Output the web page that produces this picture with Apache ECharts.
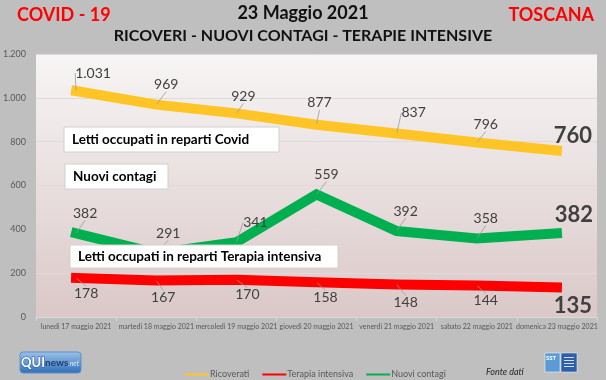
<!DOCTYPE html>
<html><head><meta charset="utf-8">
<script src="https://cdn.jsdelivr.net/npm/echarts@6/dist/echarts.min.js"></script>
<style>html,body{margin:0;padding:0;background:#bfbfbf;}#c{width:606px;height:380px;}</style>
</head><body><div id="c"></div>
<script>
var categories = ['lunedì 17 maggio 2021','martedì 18 maggio 2021','mercoledì 19 maggio 2021','giovedì 20 maggio 2021','venerdì 21 maggio 2021','sabato 22 maggio 2021','domenica 23 maggio 2021'];
var ricoverati = [1031, 969, 929, 877, 837, 796, 760];
var terapia = [178, 167, 170, 158, 148, 144, 135];
var contagi = [382, 291, 341, 559, 392, 358, 382];
var yTicks = [0, 200, 400, 600, 800, 1000, 1200];

// label offsets (style config, not data)
var offR = [[17,-18],[10,-20],[7,-17],[3,-22],[17,-21],[9,-18],[16,-15]];
var offT = [[10,15],[7,17],[11,15],[9,15],[9,18],[9,15],[16,18]];
var offC = [[9,-20],[12,-20],[19,-20],[10,-20],[9,-20],[9,-20],[17,-18]];

var FONT = 'Lato, "Open Sans", sans-serif';
function fmt(v){ return String(v).replace(/\B(?=(\d{3})+(?!\d))/g, '.'); }

function mkSeries(name, data, color, offs){
  var last = data.length - 1;
  return {
    name: name, type: 'line', data: data.map(function(v, i){
      return i === last ? {value: v, label: {fontSize: 22, fontWeight: 'bold', color: '#404040'}, labelLine: {show: false}} : v;
    }),
    symbol: 'circle', symbolSize: 1, showSymbol: true,
    itemStyle: {color: color},
    lineStyle: {color: color, width: 10, cap: 'square', join: 'miter'},
    label: {show: true, position: 'inside', fontSize: 14, color: '#404040', fontFamily: FONT,
      formatter: function(p){ return fmt(p.value); }},
    labelLayout: function(p){ var o = offs[p.dataIndex]; return {dx: o[0], dy: o[1]}; },
    labelLine: {show: true, lineStyle: {color: '#9a9a9a', width: 0.8}},
    animation: false, z: 3
  };
}

var Z = 100;
var chart = echarts.init(document.getElementById('c'));
chart.setOption({
  backgroundColor: '#bfbfbf',
  animation: false,
  textStyle: {fontFamily: FONT},
  grid: {left: 36, right: 9, top: 54, bottom: 63, show: true, borderWidth: 0,
    backgroundColor: {type: 'linear', x: 0, y: 0, x2: 0, y2: 1,
      colorStops: [{offset: 0, color: '#f7f5f5'}, {offset: 1, color: '#dbc8c8'}]}},
  xAxis: {type: 'category', data: categories, boundaryGap: true,
    axisLine: {lineStyle: {color: '#d9d9d9'}},
    axisTick: {show: true, length: 4, lineStyle: {color: '#d9d9d9'}},
    axisLabel: {fontSize: 7, color: '#595959', margin: 6, interval: 0, fontFamily: FONT}},
  yAxis: {type: 'value', min: yTicks[0], max: yTicks[yTicks.length-1], interval: yTicks[1]-yTicks[0],
    axisLine: {show: false}, axisTick: {show: false},
    splitLine: {lineStyle: {color: '#e2dada'}},
    axisLabel: {fontSize: 9, color: '#595959', margin: 10, formatter: fmt, fontFamily: FONT}},
  legend: {left: 180, top: 365, itemWidth: 22, itemHeight: 5, itemGap: 13,
    itemStyle: {opacity: 0},
    data: ['Ricoverati', 'Terapia intensiva', 'Nuovi contagi'],
    textStyle: {fontSize: 9, color: '#595959', padding: [0,0,0,-3]}},
  series: [
    mkSeries('Ricoverati', ricoverati, '#ffc527', offR),
    mkSeries('Terapia intensiva', terapia, '#ff0000', offT),
    mkSeries('Nuovi contagi', contagi, '#00b050', offC)
  ],
  graphic: [
    {type: 'text', left: 17, top: 6, style: {text: 'COVID - 19', fill: '#ff0000', font: 'bold 18px ' + FONT}},
    {type: 'text', right: 12, top: 6, style: {text: 'TOSCANA', fill: '#ff0000', font: 'bold 18px ' + FONT}},
    {type: 'text', left: 'center', top: 4, style: {text: '23 Maggio 2021', fill: '#111', font: 'bold 18px ' + FONT}},
    {type: 'text', left: 'center', top: 28, style: {text: 'RICOVERI - NUOVI CONTAGI - TERAPIE INTENSIVE', fill: '#111', font: 'bold 16px ' + FONT}},
    {type: 'rect', z: Z, shape: {x: 64, y: 127, width: 215, height: 25}, style: {fill: '#fff', stroke: '#d0d0d0', lineWidth: 1}},
    {type: 'text', z: Z + 1, x: 72, y: 139.5, style: {text: 'Letti occupati in reparti Covid', fill: '#000', font: 'bold 13.5px ' + FONT, verticalAlign: 'middle'}},
    {type: 'rect', z: Z, shape: {x: 65, y: 164, width: 103, height: 25}, style: {fill: '#fff', stroke: '#d0d0d0', lineWidth: 1}},
    {type: 'text', z: Z + 1, x: 73, y: 176.5, style: {text: 'Nuovi contagi', fill: '#000', font: 'bold 13.5px ' + FONT, verticalAlign: 'middle'}},
    {type: 'rect', z: Z, shape: {x: 70, y: 245, width: 268, height: 23}, style: {fill: '#fff', stroke: '#d0d0d0', lineWidth: 1}},
    {type: 'text', z: Z + 1, x: 78, y: 256.5, style: {text: 'Letti occupati in reparti Terapia intensiva', fill: '#000', font: 'bold 13.5px ' + FONT, verticalAlign: 'middle'}},
    // QUInews logo
    {type: 'rect', shape: {x: 20, y: 352, width: 61, height: 21, r: 3},
      style: {fill: {type: 'linear', x: 0, y: 0, x2: 0, y2: 1, colorStops: [{offset: 0, color: '#9cc3ea'}, {offset: 1, color: '#2f6db5'}]}, stroke: '#5b8fcf'}},
    {type: 'text', x: 21, y: 362.5, style: {text: 'QUI', fill: '#fff', stroke: '#2f5f9f', lineWidth: 1, font: 'bold 13px ' + FONT, verticalAlign: 'middle'}},
    {type: 'text', x: 45, y: 363, style: {text: 'news', fill: '#1f3f6e', font: 'bold 10px ' + FONT, verticalAlign: 'middle'}},
    {type: 'text', x: 68, y: 364, style: {text: '.net', fill: '#dbe8f7', font: 'italic 7px ' + FONT, verticalAlign: 'middle'}},
    {type: 'text', x: 486, y: 372, style: {text: 'Fonte dati', fill: '#262626', font: 'italic 9px ' + FONT, verticalAlign: 'middle'}},
    // SST logo
    {type: 'rect', shape: {x: 545, y: 353, width: 15, height: 19}, style: {fill: '#5b9bd5', stroke: '#fff', lineWidth: 0.5}},
    {type: 'text', x: 546, y: 358, style: {text: 'SST', fill: '#fff', font: 'bold 6px ' + FONT, verticalAlign: 'middle'}},
    {type: 'rect', shape: {x: 561, y: 353, width: 16, height: 19}, style: {fill: '#2e5fa8', stroke: '#fff', lineWidth: 0.5}},
    {type: 'rect', shape: {x: 564, y: 357, width: 10, height: 1}, style: {fill: '#cfe0f5'}},
    {type: 'rect', shape: {x: 564, y: 360, width: 10, height: 1}, style: {fill: '#cfe0f5'}},
    {type: 'rect', shape: {x: 564, y: 363, width: 10, height: 1}, style: {fill: '#cfe0f5'}},
    {type: 'rect', shape: {x: 564, y: 366, width: 10, height: 1}, style: {fill: '#cfe0f5'}}
  ]
});
</script></body></html>
